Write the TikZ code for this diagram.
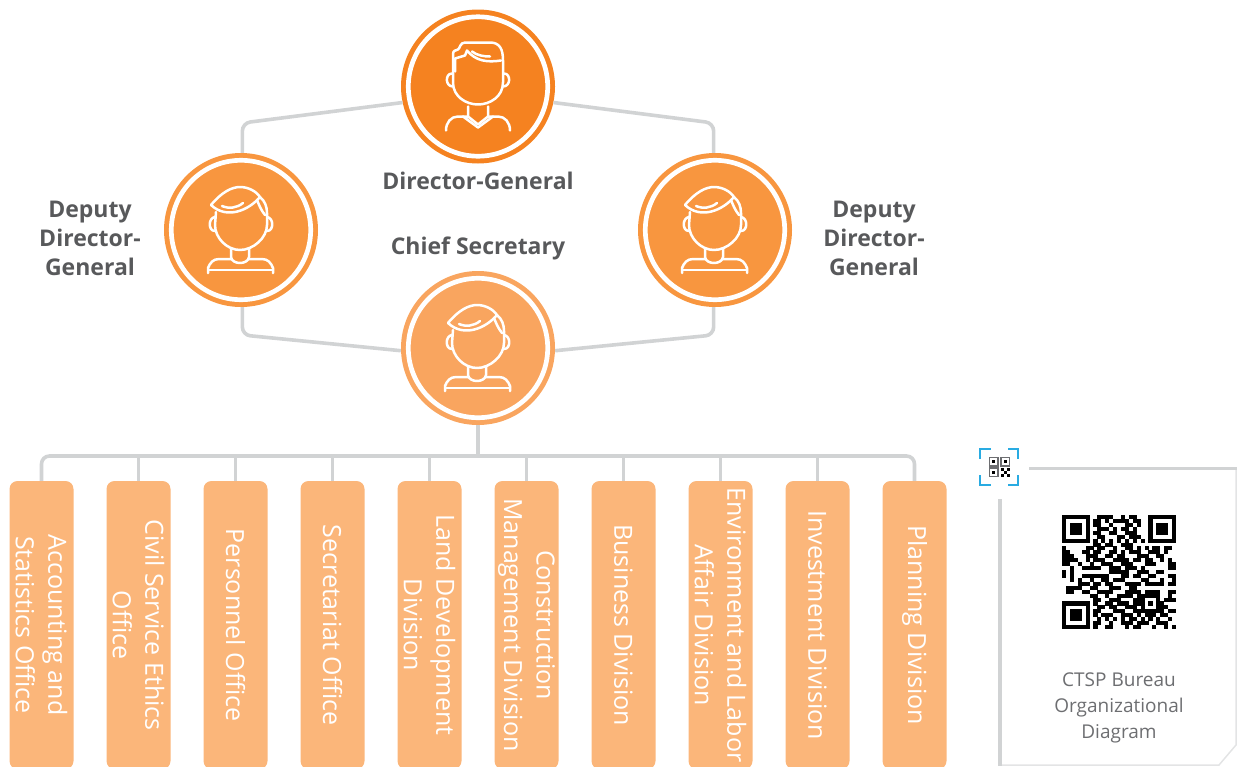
\documentclass[tikz,border=0pt]{standalone}
\usepackage{fontspec}
\setmainfont{Open Sans}
\usepackage{xcolor}
\usetikzlibrary{positioning,calc}

\definecolor{directorfill}{HTML}{F58220}
\definecolor{deputyfill}{HTML}{F8963F}
\definecolor{chieffill}{HTML}{F9A55F}
\definecolor{unitfill}{HTML}{FBB67A}
\definecolor{linkgray}{HTML}{D1D3D4}
\definecolor{textgray}{HTML}{58595B}
\definecolor{captiongray}{HTML}{6D6E71}
\definecolor{scanblue}{HTML}{29ABE2}

\newcount\qrcol
\def\qrscan#1{\ifx#1\relax\else\ifnum#1=1 \fill (\the\qrcol,\y) rectangle +(1.03,1.03);\fi\advance\qrcol by 1 \expandafter\qrscan\fi}

\tikzset{
    headcircle/.style={circle,minimum size=154pt,inner sep=0pt},
    link/.style={draw=linkgray,line width=3.6pt,rounded corners=8pt},
    rolelabel/.style={text=textgray,font=\fontsize{23}{29}\selectfont\bfseries,align=center,inner sep=0pt},
    unitbox/.style={fill=unitfill,rounded corners=8pt,minimum width=288pt,minimum height=64pt,inner sep=0pt,
        rotate=-90,text=white,align=center,font=\fontsize{25}{32.5}\selectfont},
    iconline/.style={white,line width=2.5pt,line cap=round,line join=round},
    % Face with parted hair
    partedface/.pic={
        \draw[white,line width=4.7pt] (0,0) circle (69.7pt);
        \draw[iconline] (-25,-4) .. controls (-25,10) and (-12,18) .. (0,18) .. controls (12,18) and (25,10) .. (25,-4)
            -- (25,-26) .. controls (25,-37) and (22,-44) .. (12,-44) -- (-13,-44) .. controls (-18,-44) and (-18,-38) .. (-20,-37)
            .. controls (-23,-36) and (-25,-36) .. (-25,-32) -- cycle;
        \draw[iconline] (-23,-15) -- (-23,-28) -- (-13,-31) -- (-11,-36) .. controls (-2,-25) and (10,-24) .. (23,-26);
        \draw[iconline] (-6,-35) .. controls (-1,-31) and (6,-30) .. (12,-30);
        \draw[iconline] (-26,-13) .. controls (-33,-13) and (-33,0) .. (-25,0);
        \draw[iconline] (26,-13) .. controls (33,-13) and (33,0) .. (25,0);
        \draw[iconline] (-10,20) -- (-10,30) -- (0,38) -- (10,30) -- (10,20);
        \draw[iconline] (-15,30) -- (0,41) -- (15,30);
        \draw[iconline] (-32,44) .. controls (-32,36) and (-27,30) .. (-20,30) -- (-10,30);
        \draw[iconline] (32,44) .. controls (32,36) and (27,30) .. (20,30) -- (10,30);
    },
    % Face with swept hair
    sweptface/.pic={
        \draw[white,line width=4.7pt] (0,0) circle (69.7pt);
        \draw[iconline] (-30,-25) .. controls (-20,-37) and (-10,-43) .. (-1,-43) .. controls (7,-43) and (15,-39) .. (19,-33)
            .. controls (8,-20) and (-14,-10) .. (-30,-25);
        \draw[iconline] (19,-33) .. controls (24,-29) and (26,-23) .. (26,-17) -- (26,-5) .. controls (26,8) and (12,20) .. (-1,20)
            .. controls (-14,20) and (-26,8) .. (-26,-5) -- (-25,-18);
        \draw[iconline] (16,-30) .. controls (18,-25) and (20,-20) .. (24,-15);
        \draw[iconline] (-19,-24) .. controls (-12,-21) and (-4,-22) .. (2,-27);
        \draw[iconline] (-26,-13) .. controls (-33,-12) and (-33,1) .. (-26,1);
        \draw[iconline] (26,-13) .. controls (33,-12) and (33,1) .. (26,1);
        \draw[iconline] (-10,18) -- (-10,27) .. controls (-9,35) and (7,35) .. (8,27) -- (8,18);
        \draw[iconline] (-33,43) -- (-33,38) .. controls (-31,33) and (-28,29) .. (-22,29) -- (-10,29);
        \draw[iconline] (32,43) -- (32,38) .. controls (30,33) and (27,29) .. (21,29) -- (8,29);
        \draw[iconline] (-33,40) -- (32,40);
    }
}

\begin{document}
\begin{tikzpicture}[x=1pt,y=-1pt]
    \useasboundingbox (0,0) rectangle (1237,766);

    % Heads
    \node[headcircle,fill=directorfill] (director) at (478,86.5) {};
    \node[headcircle,fill=deputyfill] (deputyL) at (241,230) {};
    \node[headcircle,fill=deputyfill] (deputyR) at (715,230) {};
    \node[headcircle,fill=chieffill] (chief) at (478,348) {};
    \pic at (director) {partedface};
    \pic at (deputyL) {sweptface};
    \pic at (deputyR) {sweptface};
    \pic at (chief) {sweptface};

    \node[rolelabel] (directorname) at (478,181) {Director-General};
    \node[rolelabel] (chiefname) at (478,248.5) {Chief Secretary};
    \node[rolelabel] (deputyLname) at (90,238) {Deputy\\Director-\\General};
    \node[rolelabel] (deputyRname) at (874,238) {Deputy\\Director-\\General};

    % Links between heads
    \coordinate (upper) at (478,123);
    \coordinate (lower) at (478,335);
    \draw[link] (director.192) -- (deputyL.89 |- upper) -- (deputyL.89);
    \draw[link] (director.-12) -- (deputyR.91 |- upper) -- (deputyR.91);
    \draw[link] (chief.182) -- (deputyL.-89 |- lower) -- (deputyL.-89);
    \draw[link] (chief.-2) -- (deputyR.-91 |- lower) -- (deputyR.-91);

    % Units
    \foreach \i/\label in {1/{Accounting and\\Statistics Office}, 2/{Civil Service Ethics\\Office}, 3/Personnel Office, 4/Secretariat Office,
        5/{Land Development\\Division}, 6/{Construction\\Management Division}, 7/Business Division,
        8/{Environment and Labor\\Affair Division}, 9/Investment Division, 10/Planning Division} {
        \node[unitbox] (unit\i) at ({41.5+97*(\i-1)},625) {\label};
    }

    \coordinate (bus) at (478,456);
    \draw[link] (chief.south) -- (bus);
    \draw[link] (unit1.west) |- (bus) -| (unit10.west);
    \foreach \i in {2,...,9} {
        \draw[link] (unit\i.west) -- (unit\i.west |- bus);
    }

    % Panel
    \draw[linkgray!60,line width=1.5pt] (1236,468) -- (1236,745) -- (1219,765) -- (1000,765);
    \draw[linkgray,line width=3pt] (1029,468) -- (1237,468);
    \draw[linkgray,line width=3.6pt] (1000,499) -- (1000,766);
    \node[text=captiongray,font=\fontsize{19}{26.3}\selectfont,align=center,inner sep=0pt] (caption) at (1119,708)
        {CTSP Bureau\\Organizational\\Diagram};

    % Code
    \begin{scope}[shift={(1062,515)},x=3.93pt,y=-3.93pt]
        \foreach \y/\row in {
            0/1111111 0 0111100101100 0 1111111,
            1/1000001 0 1101011110110 0 1000001,
            2/1011101 0 1100100011010 0 1011101,
            3/1011101 0 0111010110100 0 1011101,
            4/1011101 0 1100110011100 0 1011101,
            5/1000001 0 0110001101110 0 1000001,
            6/1111111 0 1010101010101 0 1111111,
            7/0000000 0 1101100111000 0 0000000,
            8/1000001 1 0110010011010 1 0110110,
            9/1100011 0 1100110101110 0 1110100,
            10/1110001 1 1001101100011 1 0011000,
            11/1111001 0 1110011110110 1 1001010,
            12/1100100 1 0011100111000 1 1100011,
            13/0010011 1 1100111011101 0 0000011,
            14/1010000 0 0000111110011 1 0011000,
            15/1010011 1 1111000110110 0 1100011,
            16/0010100 1 0011011100001 1 0001001,
            17/0000111 0 1101100011110 1 1111011,
            18/0111100 1 1000111001100 0 0000000,
            19/0110011 0 0111100011110 1 1110011,
            20/0000000 1 100100111101 11111 0010,
            21/0000000 0 110011100011 10001 0111,
            22/1111111 0 100110111011 10101 1000,
            23/1000001 0 011011001110 10001 1100,
            24/1011101 0 110001110011 11111 1011,
            25/1011101 0 101110011101011101100,
            26/1011101 0 010101010110101010010,
            27/1000001 0 110010011101110011100,
            28/1111111 0 100110001011000100101} {
            \qrcol=0
            \expandafter\qrscan\row\relax
        }
    \end{scope}

    % Scan mark
    \draw[scanblue,line width=2.4pt] (980,459) -- (980,449) -- (991,449);
    \draw[scanblue,line width=2.4pt] (1008,449) -- (1018,449) -- (1018,459);
    \draw[scanblue,line width=2.4pt] (980,475) -- (980,485) -- (991,485);
    \draw[scanblue,line width=2.4pt] (1008,485) -- (1018,485) -- (1018,475);
    \foreach \cx/\cy in {989.5/457.5, 1001/457.5, 989.5/468} {
        \draw[captiongray,line width=1.1pt] (\cx,\cy) rectangle +(8.5,8.5);
        \fill[black] (\cx+2.6,\cy+2.6) rectangle +(3.3,3.3);
    }
    \foreach \cx/\cy in {1001/468, 1006.6/468, 1003.8/470.8, 1001/473.6, 1006.6/473.6} {
        \fill[black] (\cx,\cy) rectangle +(3,3);
    }
\end{tikzpicture}
\end{document}
